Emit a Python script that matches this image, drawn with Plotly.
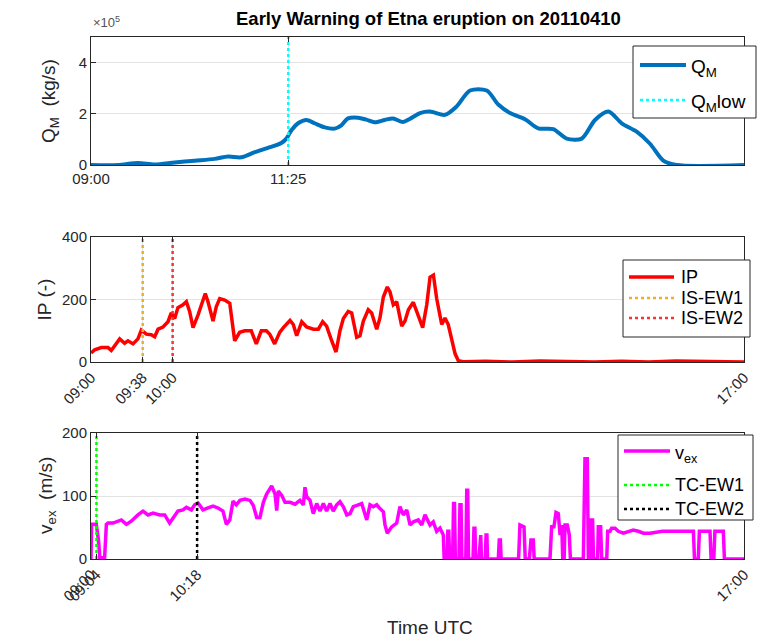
import plotly.graph_objects as go

# ---------------- data (time in minutes after 09:00 UTC) ----------------
qm_t = [0, 19.8, 34.5, 46.8, 61.5, 76.2, 90.9, 100.7, 110.5, 120.3, 130.1, 139.9,
        143.6, 147.3, 152.2, 158.3, 164.4, 171.8, 179.1, 184, 188.9, 196.3, 202.4,
        208.5, 215.9, 222, 229.3, 234.3, 241.8, 249.2, 260.2, 268.8, 278.6, 290.9,
        299.4, 308, 319, 328.8, 339.8, 349.7, 360.7, 370.5, 380.3, 390.1, 401.1,
        410.9, 420.7, 430.5, 480]
qm_e5 = [0, 0, 0.08, 0.02, 0.1, 0.17, 0.24, 0.33, 0.3, 0.5, 0.67, 0.86,
         1.03, 1.36, 1.63, 1.76, 1.63, 1.47, 1.42, 1.55, 1.82, 1.85, 1.77,
         1.67, 1.76, 1.82, 1.68, 1.8, 2.03, 2.09, 1.96, 2.29, 2.91, 2.91,
         2.36, 2.03, 1.79, 1.43, 1.40, 1.03, 1.03, 1.76, 2.09, 1.63, 1.30,
         0.83, 0.17, 0, 0]   # x 1e5 kg/s

ip_t = [0, 2.7, 7.6, 12.5, 14.9, 18.6, 21.1, 24.7, 27.2, 30.9, 34.5, 37, 40.7,
        44.3, 46.8, 49.3, 52.9, 56.6, 59, 61.5, 63.9, 67.6, 70.1, 72.5, 75, 78.7,
        82.3, 84, 86, 89.7, 92.1, 94.6, 98.3, 102, 105.6, 109.3, 113, 117.8, 121.5,
        125.2, 128.9, 131.4, 135, 138.7, 141.4, 146.3, 148.7, 151.2, 154.9, 158.5,
        163.4, 167.1, 170.3, 173.2, 176.9, 180.1, 183, 185.5, 189.1, 191.6, 195.3,
        197.7, 200.2, 203.8, 206.3, 210, 212.4, 214.9, 217.8, 219.8, 222.2, 224.7,
        228.4, 230.8, 233.3, 236.9, 239.4, 243.8, 246.8, 249.2, 251.7, 254.1, 257.8,
        260.2, 262.6, 265.1, 267.6, 270, 273.7, 290, 310, 330, 350, 370, 390, 410,
        430, 450, 480]
ip_v = [29, 39, 46, 46, 37, 58, 74, 60, 68, 58, 74, 102, 89,
        87, 81, 105, 112, 129, 157, 139, 174, 183, 193, 162, 110, 151,
        193, 219, 193, 131, 177, 203, 198, 188, 68, 95, 100, 100, 58,
        100, 100, 89, 58, 95, 110, 133, 120, 84, 129, 112,
        105, 105, 129, 115, 68, 32, 100, 139, 162, 157, 79,
        84, 131, 167, 157, 105, 141, 208, 240, 224, 183, 193,
        115, 131, 167, 191, 162, 110, 183, 271, 278, 203, 120,
        141, 120, 68, 27, 4, 1, 2, 0, 3, 1, 0, 2, 0,
        3, 1, 0]

vex_t = [0, 0.4, 3.9, 5.6, 6.5, 10, 11.3, 12.5, 16.2, 19.8, 22.3, 26, 29.6, 34.5,
         38.2, 41.9, 45.6, 50.5, 54.2, 57.8, 61.5, 63.9, 67.6, 70.1, 73.8, 76.2,
         78.7, 82.3, 86, 89.7, 93.4, 97, 99.5, 102, 104.4, 106.8, 109.5, 113.2,
         116.9, 119.3, 121.8, 124.2, 126.7, 129.1, 132.8, 135.3, 136.5, 137.7,
         140.2, 142.6, 146.3, 150, 153.6, 156.1, 157.3, 158.5, 161, 163.4, 165.9,
         168.3, 170.8, 173.2, 175.7, 178.1, 180.6, 183, 185.5, 188, 190.4, 192.8,
         196.5, 199, 202.7, 205.1, 207.5, 210, 212.4, 214.9, 216.1, 217.8, 221,
         224.7, 227.1, 229.6, 232.1, 234.5, 237, 240.6, 243.1, 245.5, 249.2,
         251.6, 254.1, 256.5, 259, 259.6, 261.8, 262.3, 263, 263.6, 265.8, 266.5,
         267.2, 267.8, 270.5, 271.2, 272, 272.6, 275.5, 276.2, 276.9, 277.5,
         280.8, 281.5, 282.2, 282.8, 285.2, 285.9, 286.5, 287, 289.8, 290.4, 291,
         291.5, 299.4, 300.1, 300.9, 301.5, 314.3, 315.3, 318.3, 319.2, 322.2,
         323.4, 325.1, 325.8, 337.4, 338.6, 340.3, 341.8, 343.5, 344.8, 346,
         346.8, 347.8, 348.4, 350.1, 351.6, 352.4, 361.9, 363.1, 364.8, 365.6,
         366.8, 367.3, 368.7, 369.4, 372.4, 372.9, 374.6, 375.4, 379.1, 379.8,
         381.5, 382.7, 385.2, 387.6, 391.3, 395, 398.6, 402.3, 406, 410.9, 420,
         442.8, 443.6, 446.4, 447.2, 455, 455.8, 457.8, 458.6, 464.8, 465.6, 480]
vex_v = [0, 55, 55, 28, 2, 2, 55, 57, 57, 60, 62, 55, 60, 70,
         76, 70, 73, 70, 70, 57, 68, 76, 78, 82, 78, 86,
         89, 78, 81, 84, 81, 76, 55, 62, 92, 86, 93, 95,
         93, 85, 66, 66, 90, 103, 116, 103, 77, 108,
         101, 90, 90, 87, 93, 86, 114, 99, 93, 72, 88,
         76, 88, 76, 88, 76, 86, 91, 83, 70, 72, 83,
         86, 88, 62, 86, 83, 86, 80, 75, 54, 41, 51,
         57, 83, 70, 78, 54, 59, 62, 54, 70, 54,
         59, 44, 49, 38, 0, 0, 44, 44, 0, 0, 88,
         88, 0, 0, 86, 86, 0, 0, 109, 109, 0,
         0, 49, 49, 0, 0, 38, 38, 0, 0, 38, 38,
         0, 0, 30, 30, 0, 0, 54, 51, 0, 0,
         30, 30, 0, 0, 51, 51, 74, 72, 38, 54,
         0, 0, 54, 54, 38, 0, 0, 159, 159, 0,
         0, 62, 62, 0, 0, 51, 51, 0, 0, 44,
         44, 49, 49, 44, 41, 44, 46, 44, 41, 41, 44,
         44, 0, 0, 44, 44, 0, 0, 44, 44, 0, 0]

qm_low_time = "11:25"
is_ew_times = ["09:38", "10:00"]
tc_ew_times = ["09:04", "10:18"]
x_start, x_end = "09:00", "17:00"

title_text = "Early Warning of Etna eruption on 20110410"
qm_names = ["Q<sub>M</sub>", "Q<sub>M</sub>low"]
ip_names = ["IP", "IS-EW1", "IS-EW2"]
vex_names = ["v<sub>ex</sub>", "TC-EW1", "TC-EW2"]


def mins(hhmm):
    h, m = hhmm.split(":")
    return (int(h) - 9) * 60 + int(m)


# ---------------- figure ----------------
FONT = "Liberation Sans, Arial, Helvetica, sans-serif"
TXT = "#262626"
GRID = "#e3e3e3"
C_QM, C_LOW = "#0072BD", "#00FFFF"
C_IP, C_EW1, C_EW2 = "#FF0000", "#EDB120", "#FF3030"
C_VEX, C_TC1, C_TC2 = "#FF00FF", "#00FF00", "#000000"

# pixel geometry of the plotting region
L, R, T, B = 91, 744, 37, 559


def px2x(px):
    return (px - L) / (R - L)


def px2y(py):
    return (B - py) / (B - T)


fig = go.Figure()

fig.add_trace(go.Scatter(x=qm_t, y=qm_e5, mode="lines", name=qm_names[0],
                         line=dict(color=C_QM, width=4, shape="spline", smoothing=0.8),
                         xaxis="x", yaxis="y"))
t = mins(qm_low_time)
fig.add_trace(go.Scatter(x=[t, t], y=[0, 5], mode="lines", name=qm_names[1],
                         line=dict(color=C_LOW, width=2.5, dash="dot"),
                         xaxis="x", yaxis="y"))

fig.add_trace(go.Scatter(x=ip_t, y=ip_v, mode="lines", name=ip_names[0],
                         line=dict(color=C_IP, width=3.5),
                         xaxis="x2", yaxis="y2"))
for tt, nm, col in zip(is_ew_times, ip_names[1:], [C_EW1, C_EW2]):
    m = mins(tt)
    fig.add_trace(go.Scatter(x=[m, m], y=[0, 400], mode="lines", name=nm,
                             line=dict(color=col, width=2.5, dash="dot"),
                             xaxis="x2", yaxis="y2"))

fig.add_trace(go.Scatter(x=vex_t, y=vex_v, mode="lines", name=vex_names[0],
                         line=dict(color=C_VEX, width=3.5),
                         xaxis="x3", yaxis="y3"))
for tt, nm, col in zip(tc_ew_times, vex_names[1:], [C_TC1, C_TC2]):
    m = mins(tt)
    fig.add_trace(go.Scatter(x=[m, m], y=[0, 200], mode="lines", name=nm,
                             line=dict(color=col, width=2.5, dash="dot"),
                             xaxis="x3", yaxis="y3"))

xr = [mins(x_start), mins(x_end)]
common_ax = dict(showline=True, linecolor=TXT, linewidth=1, mirror="ticks",
                 ticks="inside", ticklen=5, tickcolor=TXT, showgrid=True,
                 gridcolor=GRID, gridwidth=1, zeroline=False,
                 tickfont=dict(family=FONT, size=15, color=TXT))

x1_ticks = [x_start, qm_low_time, x_end]
x2_ticks = [x_start] + is_ew_times + [x_end]
x3_ticks = [x_start] + tc_ew_times + [x_end]

fig.update_layout(
    width=762, height=638,
    margin=dict(l=L, r=762 - R, t=T, b=638 - B, autoexpand=False),
    paper_bgcolor="white", plot_bgcolor="white",
    showlegend=False,
    xaxis=dict(common_ax, domain=[0, 1], anchor="y", range=xr,
               tickvals=[mins(s) for s in x1_ticks], ticktext=x1_ticks, tickangle=0),
    yaxis=dict(common_ax, domain=[px2y(165), 1], anchor="x", range=[0, 5],
               tickvals=[0, 2, 4]),
    xaxis2=dict(common_ax, domain=[0, 1], anchor="y2", range=xr,
                tickvals=[mins(s) for s in x2_ticks], ticktext=x2_ticks, tickangle=-45),
    yaxis2=dict(common_ax, domain=[px2y(362), px2y(237)], anchor="x2", range=[0, 400],
                tickvals=[0, 200, 400]),
    xaxis3=dict(common_ax, domain=[0, 1], anchor="y3", range=xr,
                tickvals=[mins(s) for s in x3_ticks], ticktext=x3_ticks, tickangle=-45),
    yaxis3=dict(common_ax, domain=[0, px2y(433)], anchor="x3", range=[0, 200],
                tickvals=[0, 100, 200]),
)

shapes = []
ann = []

# ---- hand-drawn MATLAB-style legends ----
legend_specs = [
    # box (x0, y0, x1, y1), line x-range, text x, font size, entries (y, name, color, width, dash, text dy)
    ((633, 46, 756, 118), (640, 686), 689, 19,
     [(65, qm_names[0], C_QM, 4, "solid", 3), (100, qm_names[1], C_LOW, 2.5, "dot", 3)]),
    ((623, 260, 750, 337), (629, 674), 679, 18,
     [(277, ip_names[0], C_IP, 3.5, "solid", 0), (298, ip_names[1], C_EW1, 2.5, "dot", 0),
      (318, ip_names[2], C_EW2, 2.5, "dot", 0)]),
    ((618, 435, 753, 520), (624, 670), 673, 18,
     [(451, vex_names[0], C_VEX, 3.5, "solid", 3), (485, vex_names[1], C_TC1, 2.5, "dot", 0),
      (509, vex_names[2], C_TC2, 2.5, "dot", 0)]),
]
for (bx0, by0, bx1, by1), (lx0, lx1), tx, fs, entries in legend_specs:
    shapes.append(dict(type="rect", xref="paper", yref="paper",
                       x0=px2x(bx0), x1=px2x(bx1), y0=px2y(by1), y1=px2y(by0),
                       line=dict(color=TXT, width=1), fillcolor="white", layer="above"))
    for ey, nm, col, w, dash, dy in entries:
        shapes.append(dict(type="line", xref="paper", yref="paper",
                           x0=px2x(lx0), x1=px2x(lx1), y0=px2y(ey), y1=px2y(ey),
                           line=dict(color=col, width=w, dash=dash), layer="above"))
        ann.append(dict(text=nm, xref="paper", yref="paper", x=px2x(tx), y=px2y(ey + dy),
                        xanchor="left", yanchor="middle", showarrow=False,
                        font=dict(family=FONT, size=fs, color="black")))

ann.append(dict(text="<b>" + title_text + "</b>", xref="paper", yref="paper",
                x=px2x(428), y=px2y(19), xanchor="center", yanchor="middle",
                showarrow=False, font=dict(family=FONT, size=18.5, color="black")))
ann.append(dict(text="×10<sup>5</sup>", xref="paper", yref="paper", x=px2x(91), y=px2y(22),
                xanchor="left", yanchor="middle", showarrow=False,
                font=dict(family=FONT, size=13, color="#555555")))
ann.append(dict(text="Time UTC", xref="paper", yref="paper", x=px2x(430), y=px2y(627),
                xanchor="center", yanchor="middle", showarrow=False,
                font=dict(family=FONT, size=19, color=TXT)))
for txt, yc, xc in [("Q<sub>M</sub>  (kg/s)", 101, 50), ("IP (-)", 299.5, 44),
                    ("v<sub>ex</sub>  (m/s)", 496, 47)]:
    ann.append(dict(text=txt, xref="paper", yref="paper", x=px2x(xc),
                    y=px2y(yc), xanchor="center", yanchor="middle",
                    textangle=-90, showarrow=False,
                    font=dict(family=FONT, size=19, color=TXT)))
fig.update_layout(annotations=ann, shapes=shapes)

fig.write_html("out.html", config={"displayModeBar": False},
               post_script="document.body.style.margin='0px';")
